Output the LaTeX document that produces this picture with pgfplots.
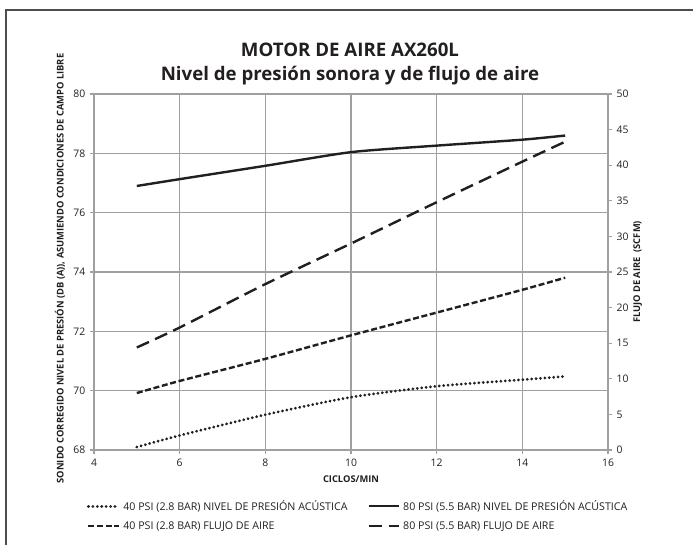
\documentclass[border=0pt]{standalone}
\usepackage{pgfplots}
\pgfplotsset{compat=1.18}
\usepackage{fontspec}
\setmainfont{Open Sans}
\definecolor{gridgray}{HTML}{A0A0A0}
\definecolor{ink}{HTML}{231F20}
\definecolor{framec}{HTML}{4D4D4D}
\pgfplotstableread{
x snd40 snd80
5  68.10 76.90
6  68.49 77.13
8  69.19 77.58
10 69.78 78.04
12 70.15 78.26
14 70.37 78.46
15 70.48 78.60
}\sound
\pgfplotstableread{
x flw40 flw80
5  8.0  14.4
6  9.7  17.2
8  12.8 23.3
10 16.1 29.0
12 19.3 34.8
14 22.5 40.5
15 24.2 43.3
}\flow
\begin{document}
\begin{tikzpicture}[x=0.75pt,y=0.75pt]
\path[use as bounding box] (0,0) rectangle (693,544);
\draw[line width=1.4pt, color=framec] (6,-2) -- (6,534) -- (695,534);
\node[font=\bfseries\fontsize{14}{16}\selectfont, text=ink] at (350,494) {MOTOR DE AIRE AX260L};
\node[font=\bfseries\fontsize{14}{16}\selectfont, text=ink] at (350,468) {Nivel de presión sonora y de flujo de aire};
\pgfplotsset{
  common/.style={
    at={(70.5pt,70.5pt)}, anchor=south west,
    scale only axis, width=385.5pt, height=267pt,
    xmin=4, xmax=16,
    axis line style={gridgray, line width=0.9pt},
    tick style={gridgray, line width=0.8pt},
    major tick length=3pt,
    tick align=outside,
    tick label style={font=\fontsize{7.8}{9}\selectfont, text=ink},
    /pgf/number format/assume math mode=true,
    label style={font=\bfseries\fontsize{7}{8}\selectfont, text=ink},
  },
  sline/.style={ink, line width=1.8pt, smooth, tension=0.4},
  dotl/.style={ink, line width=2.3pt, line cap=round, dash pattern=on 0.01pt off 3.3pt},
}
\begin{axis}[common,
  ymin=68, ymax=80,
  xtick={4,6,...,16}, ytick={68,70,...,80},
  xtick pos=bottom, ytick pos=left,
  grid=major, major grid style={gridgray, line width=0.9pt},
  xlabel={CICLOS/MIN},
  xlabel style={at={(axis description cs:0.5,-0.082)}, anchor=center},
  ylabel={SONIDO CORREGIDO NIVEL DE PRESIÓN (DB (A)), ASUMIENDO CONDICIONES DE CAMPO LIBRE},
  ylabel style={at={(axis description cs:-0.066,0.51)}, anchor=center},
]
\addplot[sline, dotl] table[x=x,y=snd40]{\sound};
\addplot[sline] table[x=x,y=snd80]{\sound};
\end{axis}
\begin{axis}[common,
  ymin=0, ymax=50, ytick={0,5,...,50},
  axis y line*=right, axis x line=none,
  ylabel={FLUJO DE AIRE\ \ (SCFM)},
  ylabel style={at={(axis description cs:1.058,0.5)}, anchor=center, rotate=0},
  legend columns=2,
  legend cell align=left,
  legend image code/.code={\draw[#1] (0pt,0pt) -- (23pt,0pt);},
  legend style={draw=none, fill=none, at={(axis description cs:-0.022,-0.125)}, anchor=north west,
    font=\fontsize{8}{9.5}\selectfont, text=ink, row sep=3pt,
    /tikz/every even column/.append style={column sep=13pt}},
]
\addlegendimage{dotl}
\addlegendentry{40 PSI (2.8 BAR) NIVEL DE PRESIÓN ACÚSTICA}
\addlegendimage{ink, line width=1.8pt}
\addlegendentry{80 PSI (5.5 BAR) NIVEL DE PRESIÓN ACÚSTICA}
\addplot[sline, dash pattern=on 4.5pt off 2pt] table[x=x,y=flw40]{\flow};
\addlegendentry{40 PSI (2.8 BAR) FLUJO DE AIRE}
\addplot[sline, dash pattern=on 10pt off 5pt] table[x=x,y=flw80]{\flow};
\addlegendentry{80 PSI (5.5 BAR) FLUJO DE AIRE}
\end{axis}
\end{tikzpicture}
\end{document}
